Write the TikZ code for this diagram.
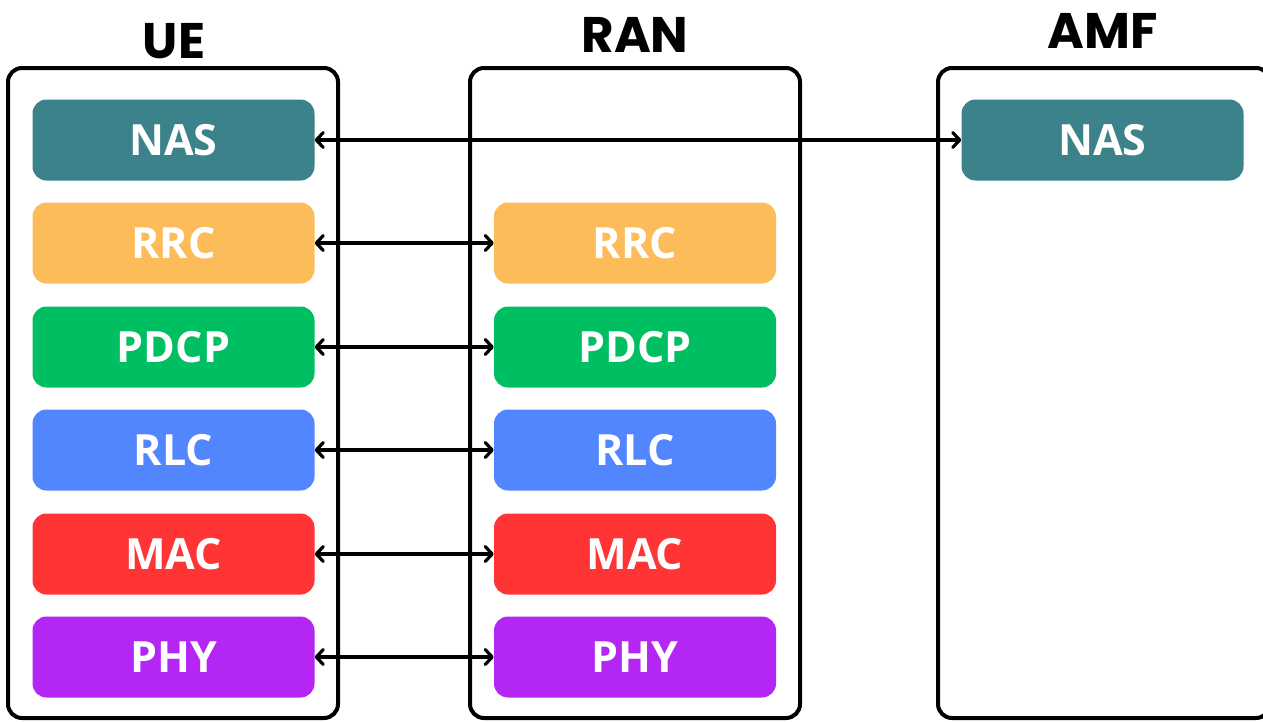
\documentclass[tikz,border=0pt]{standalone}
\usepackage{fontspec}
\setmainfont{Open Sans}
\newfontfamily\titlefont{Poppins}
\usetikzlibrary{arrows.meta}
\definecolor{nascol}{HTML}{3C828B}
\definecolor{rrccol}{HTML}{FDBC5A}
\definecolor{pdcpcol}{HTML}{00BF63}
\definecolor{rlccol}{HTML}{5286FF}
\definecolor{maccol}{HTML}{FF3434}
\definecolor{phycol}{HTML}{B326F4}
\tikzset{
  container/.style={draw=black, line width=4pt, rounded corners=14pt},
  layer/.style={rounded corners=14pt, minimum width=282pt, minimum height=81pt,
    inner sep=0pt, text=white, font=\fontsize{43}{45}\selectfont\bfseries},
  title/.style={anchor=base, font=\titlefont\fontsize{50}{52}\selectfont\bfseries},
  barb/.tip={Straight Barb[length=7pt,width=15pt,line width=3.2pt,line cap=round,line join=round]},
  link/.style={line width=3.5pt, barb-barb}
}
\begin{document}
\begin{tikzpicture}[x=1pt,y=-1pt]
\useasboundingbox (0,0) rectangle (1263,721);
\clip (0,0) rectangle (1263,721);
\fill[white] (0,0) rectangle (1263,721);

% protocol stack columns
\draw[container] (8,68) rectangle (338,718);
\draw[container] (470,68) rectangle (800,718);
\draw[container] (938,68) rectangle (1270,718);
\node[title] (t-ue) at (174,58) {UE};
\node[title] (t-ran) at (635,52) {RAN};
\node[title] (t-amf) at (1103,48) {AMF};

% UE stack
\node[layer, fill=nascol]  (ue-nas)  at (173.5,140) {NAS};
\node[layer, fill=rrccol]  (ue-rrc)  at (173.5,243) {RRC};
\node[layer, fill=pdcpcol] (ue-pdcp) at (173.5,347) {PDCP};
\node[layer, fill=rlccol]  (ue-rlc)  at (173.5,450) {RLC};
\node[layer, fill=maccol]  (ue-mac)  at (173.5,554) {MAC};
\node[layer, fill=phycol]  (ue-phy)  at (173.5,657) {PHY};

% RAN stack
\node[layer, fill=rrccol]  (ran-rrc)  at (635,243) {RRC};
\node[layer, fill=pdcpcol] (ran-pdcp) at (635,347) {PDCP};
\node[layer, fill=rlccol]  (ran-rlc)  at (635,450) {RLC};
\node[layer, fill=maccol]  (ran-mac)  at (635,554) {MAC};
\node[layer, fill=phycol]  (ran-phy)  at (635,657) {PHY};

% AMF
\node[layer, fill=nascol] (amf-nas) at (1102.5,140) {NAS};

% peer links
\draw[link] (ue-nas.east) -- (amf-nas.west);
\draw[link] (ue-rrc.east) -- (ran-rrc.west);
\draw[link] (ue-pdcp.east) -- (ran-pdcp.west);
\draw[link] (ue-rlc.east) -- (ran-rlc.west);
\draw[link] (ue-mac.east) -- (ran-mac.west);
\draw[link] (ue-phy.east) -- (ran-phy.west);
\end{tikzpicture}
\end{document}
